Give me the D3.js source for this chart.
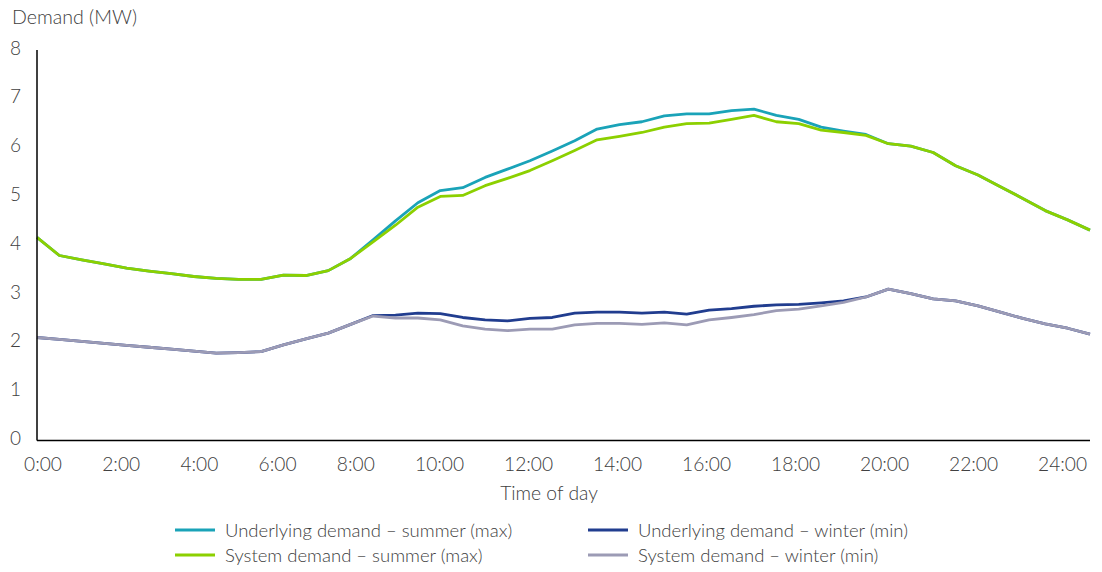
<!DOCTYPE html>
<html>
<head>
<meta charset="utf-8">
<script src="https://cdn.jsdelivr.net/npm/d3@7"></script>
<style>
  html, body { margin: 0; padding: 0; background: #fff; }
  svg { display: block; font-family: Lato, "Open Sans", sans-serif; font-weight: 300; }
</style>
</head>
<body>
<svg id="chart" width="1102" height="572"></svg>
<script>
// Half-hourly demand profile, 48 readings (index 0 = first half hour)
const slots = d3.range(48);

const underlyingSummer = [
  4.16, 3.79, 3.70, 3.62, 3.53, 3.47, 3.42, 3.36, 3.32, 3.30, 3.30, 3.39,
  3.38, 3.48, 3.73, 4.11, 4.50, 4.87, 5.12, 5.18, 5.39, 5.56, 5.73, 5.93,
  6.14, 6.38, 6.47, 6.53, 6.65, 6.69, 6.69, 6.76, 6.79, 6.66, 6.58, 6.42,
  6.34, 6.27, 6.08, 6.03, 5.90, 5.63, 5.44, 5.20, 4.96, 4.71, 4.52, 4.31
];
const systemSummer = [
  4.16, 3.79, 3.70, 3.62, 3.53, 3.47, 3.42, 3.36, 3.32, 3.30, 3.30, 3.39,
  3.38, 3.48, 3.73, 4.07, 4.41, 4.78, 5.00, 5.02, 5.22, 5.37, 5.53, 5.73,
  5.94, 6.16, 6.23, 6.31, 6.42, 6.49, 6.50, 6.58, 6.66, 6.53, 6.49, 6.36,
  6.31, 6.25, 6.08, 6.03, 5.90, 5.63, 5.44, 5.20, 4.96, 4.71, 4.52, 4.31
];
const underlyingWinter = [
  2.11, 2.07, 2.03, 1.99, 1.95, 1.91, 1.87, 1.83, 1.79, 1.80, 1.82, 1.96,
  2.08, 2.20, 2.38, 2.56, 2.57, 2.61, 2.60, 2.52, 2.47, 2.45, 2.50, 2.52,
  2.61, 2.63, 2.63, 2.61, 2.63, 2.59, 2.67, 2.70, 2.75, 2.78, 2.79, 2.82,
  2.86, 2.94, 3.10, 3.01, 2.90, 2.86, 2.76, 2.63, 2.50, 2.39, 2.30, 2.18
];
const systemWinter = [
  2.11, 2.07, 2.03, 1.99, 1.95, 1.91, 1.87, 1.83, 1.79, 1.80, 1.82, 1.96,
  2.08, 2.20, 2.38, 2.55, 2.51, 2.51, 2.47, 2.35, 2.28, 2.25, 2.28, 2.28,
  2.37, 2.40, 2.40, 2.38, 2.41, 2.37, 2.47, 2.52, 2.58, 2.66, 2.69, 2.76,
  2.83, 2.94, 3.10, 3.01, 2.90, 2.86, 2.76, 2.63, 2.50, 2.39, 2.30, 2.18
];

const seriesNames = [
  "Underlying demand \u2013 summer (max)",
  "System demand \u2013 summer (max)",
  "Underlying demand \u2013 winter (min)",
  "System demand \u2013 winter (min)"
];
const seriesColors = ["#1aa3b8", "#8cd000", "#213d8f", "#9c9bb5"];

// Axis labels
const yTicks = [0, 1, 2, 3, 4, 5, 6, 7, 8];
const hourTicks = [0, 2, 4, 6, 8, 10, 12, 14, 16, 18, 20, 22, 24];
const hourLabels = hourTicks.map(h => h + ":00");

const series = [
  { name: seriesNames[2], color: seriesColors[2], values: underlyingWinter },
  { name: seriesNames[3], color: seriesColors[3], values: systemWinter },
  { name: seriesNames[0], color: seriesColors[0], values: underlyingSummer },
  { name: seriesNames[1], color: seriesColors[1], values: systemSummer }
];

const svg = d3.select("#chart");
const textColor = "#404040";

const x = d3.scaleLinear().domain([0, slots.length - 1]).range([37, 1090]);
const y = d3.scaleLinear().domain([0, 8]).range([440.5, 50]);
// horizontal placement of the hour labels along the axis
const hourPos = d3.scaleLinear().domain([0, 10, 24]).range([24, 415, 1038]);

// lines
const line = d3.line()
  .x((d, i) => x(slots[i]))
  .y(d => y(d));

// winter underneath, summer system demand on top
svg.append("g")
  .selectAll("path")
  .data(series)
  .join("path")
  .attr("d", d => line(d.values))
  .attr("fill", "none")
  .attr("stroke", d => d.color)
  .attr("stroke-width", 2.8)
  .attr("stroke-linejoin", "round");

// axis lines
svg.append("line")
  .attr("x1", x(0)).attr("x2", x(0))
  .attr("y1", y(8)).attr("y2", y(0))
  .attr("stroke", "#000").attr("stroke-width", 1.5);
svg.append("line")
  .attr("x1", x(0)).attr("x2", x(slots.length - 1))
  .attr("y1", y(0)).attr("y2", y(0))
  .attr("stroke", "#000").attr("stroke-width", 1.5);

// y tick labels
svg.append("g")
  .selectAll("text")
  .data(yTicks)
  .join("text")
  .attr("x", 21)
  .attr("y", d => y(d) - 3)
  .attr("text-anchor", "end")
  .attr("dominant-baseline", "central")
  .attr("font-size", 19)
  .attr("fill", textColor)
  .text(d => d);

// x tick labels
svg.append("g")
  .selectAll("text")
  .data(hourTicks)
  .join("text")
  .attr("x", d => hourPos(d))
  .attr("y", 471)
  .attr("text-anchor", "start")
  .attr("font-size", 19.2)
  .attr("fill", textColor)
  .text((d, i) => hourLabels[i]);

// axis titles
svg.append("text")
  .attr("x", 12).attr("y", 24)
  .attr("font-size", 19.6)
  .attr("fill", textColor)
  .text("Demand (MW)");
svg.append("text")
  .attr("x", 549).attr("y", 500)
  .attr("text-anchor", "middle")
  .attr("font-size", 19.3)
  .attr("fill", textColor)
  .text("Time of day");

// legend
const legendItems = [
  { name: seriesNames[0], color: seriesColors[0], lx: 175, ly: 530 },
  { name: seriesNames[2], color: seriesColors[2], lx: 588, ly: 530 },
  { name: seriesNames[1], color: seriesColors[1], lx: 175, ly: 555 },
  { name: seriesNames[3], color: seriesColors[3], lx: 588, ly: 555 }
];
const lg = svg.append("g")
  .selectAll("g")
  .data(legendItems)
  .join("g")
  .attr("transform", d => `translate(${d.lx},${d.ly})`);
lg.append("line")
  .attr("x1", 0).attr("x2", 40)
  .attr("stroke", d => d.color)
  .attr("stroke-width", 2.8);
lg.append("text")
  .attr("x", 50).attr("y", 7)
  .attr("font-size", 18.5)
  .attr("fill", textColor)
  .text(d => d.name);
</script>
</body>
</html>
